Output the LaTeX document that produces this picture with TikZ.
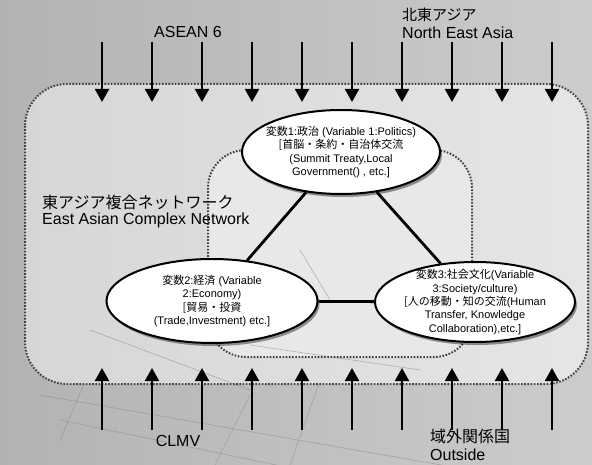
\documentclass[tikz,border=0pt]{standalone}
\usepackage{fontspec}
\setmainfont{Liberation Sans}
\newfontfamily\cjk{Noto Sans CJK JP}
\usetikzlibrary{arrows.meta,shapes.geometric,shadows}
\definecolor{bandL}{gray}{0.70}
\definecolor{bandR}{gray}{0.80}
\definecolor{outerL}{gray}{0.84}
\definecolor{outerR}{gray}{0.90}
\definecolor{innerF}{gray}{0.91}
\definecolor{dotc}{gray}{0.25}
\definecolor{mapc}{gray}{0.55}
\tikzset{
  lbl/.style={font=\fontsize{16}{18}\selectfont, inner sep=0pt},
  ell/.style={ellipse, draw=black, line width=2pt, fill=white,
    drop shadow={shadow xshift=2pt, shadow yshift=-3pt, opacity=0.4, fill=black}},
  etext/.style={align=center, font=\fontsize{11}{13.3}\selectfont, inner sep=0pt},
  dotbox/.style={draw=dotc, line width=2pt, dash pattern=on 1.6pt off 1.6pt},
  flow/.style={line width=2pt, -{Triangle[width=14pt,length=13pt]}},
  tri/.style={line width=2.8pt},
  mapline/.style={draw=mapc, line width=0.6pt, opacity=0.6}
}
\begin{document}
\begin{tikzpicture}[x=1pt,y=-1pt]
\useasboundingbox (0,0) rectangle (592,465);
% background
\shade[left color=bandL, right color=bandR] (0,0) rectangle (592,465);
% faint map lines
\draw[mapline] (40,395) -- (470,470);
\draw[mapline] (60,420) -- (300,470);
\draw[mapline] (250,395) -- (215,465);
\draw[mapline] (320,380) -- (290,465);
\draw[mapline] (120,300) -- (60,440);
% outer and inner boxes
\shade[left color=outerL, right color=outerR, rounded corners=42pt] (25,84) rectangle (588,384);
\fill[innerF, rounded corners=38pt] (208,150) rectangle (472,357);
\draw[mapline] (90,330) -- (250,390);
\draw[mapline] (250,345) -- (420,370);
\draw[mapline] (300,250) -- (330,300);
\draw[dotbox, rounded corners=42pt] (25,84) rectangle (588,384);
\draw[dotbox, rounded corners=38pt] (208,150) rectangle (472,357);
% ellipses
\node[ell, minimum width=198pt, minimum height=84pt] (e1) at (341,152) {};
\node[ell, minimum width=211pt, minimum height=84pt] (e2) at (212,301) {};
\node[ell, minimum width=200pt, minimum height=80pt] (e3) at (475,302) {};
% triangle
\draw[tri] (e1) -- (e2);
\draw[tri] (e1) -- (e3);
\draw[tri] (e2) -- (e3);
% ellipse texts
\node[etext] (t1) at (e1) {{\cjk 変数}1:{\cjk 政治} (Variable 1:Politics)\\{\cjk [首脳・条約・自治体交流}\\(Summit Treaty,Local\\Government() , etc.]};
\node[etext] (t2) at (e2) {{\cjk 変数}2:{\cjk 経済} (Variable\\2:Economy)\\{\cjk [貿易・投資}\\(Trade,Investment) etc.]};
\node[etext] (t3) at (e3) {{\cjk 変数}3:{\cjk 社会文化}(Variable\\3:Society/culture)\\{\cjk [人の移動・知の交流}(Human\\Transfer, Knowledge\\Collaboration),etc.]};
% arrows
\foreach \x [count=\i] in {102,152,...,552} {
  \coordinate (ts\i) at (\x,42);
  \coordinate (te\i) at (\x,102);
  \draw[flow] (ts\i) -- (te\i);
  \coordinate (bs\i) at (\x,430);
  \coordinate (be\i) at (\x,368);
  \draw[flow] (bs\i) -- (be\i);
}
% labels
\node[lbl] (asean) at (188,32) {ASEAN 6};
\node[lbl, anchor=west, font=\cjk\fontsize{15}{18}\selectfont] (nea1) at (402,15) {北東アジア};
\node[lbl, anchor=west] (nea2) at (402,33) {North East Asia};
\node[lbl, anchor=west, font=\cjk\fontsize{16}{18}\selectfont] (ean1) at (42,202) {東アジア複合ネットワーク};
\node[lbl, anchor=west] (ean2) at (42,220) {East Asian Complex Network};
\node[lbl] (clmv) at (178,441) {CLMV};
\node[lbl, anchor=west, font=\cjk\fontsize{16}{18}\selectfont] (out1) at (430,436) {域外関係国};
\node[lbl, anchor=west] (out2) at (430,455) {Outside};
\end{tikzpicture}
\end{document}
